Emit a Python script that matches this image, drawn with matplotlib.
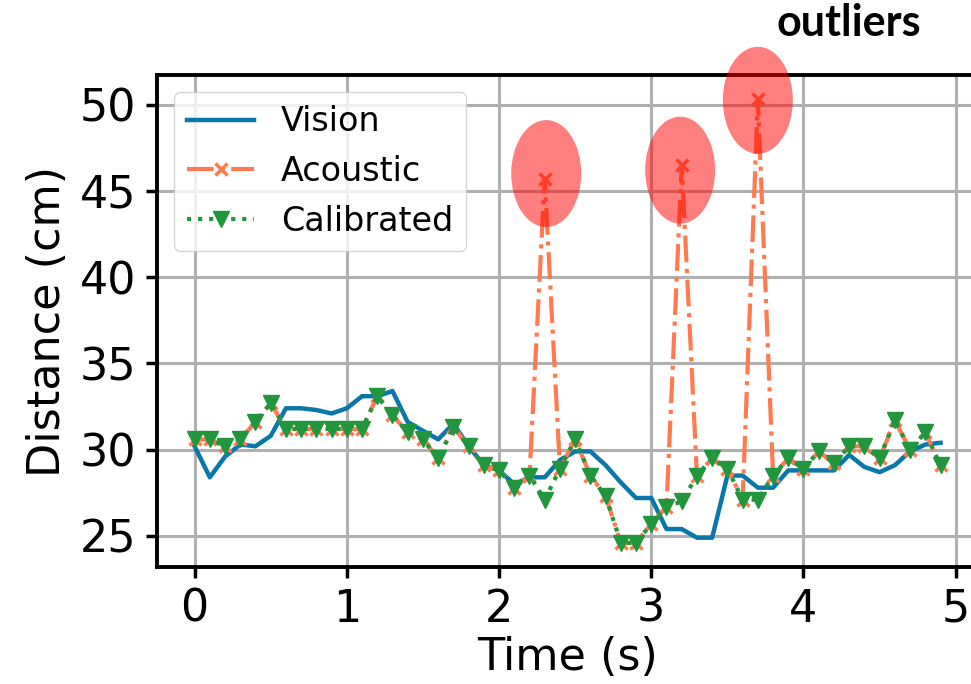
import numpy as np
import matplotlib
matplotlib.use("Agg")
import matplotlib.pyplot as plt
from matplotlib.patches import Ellipse

# time axis, 0.1 s steps
time_s = [round(0.1 * i, 1) for i in range(50)]

vision = [30.2, 28.4, 29.6, 30.3, 30.2, 30.8, 32.4, 32.4, 32.3, 32.1,
          32.4, 33.1, 33.1, 33.4, 31.6, 31.1, 30.6, 31.5, 30.2, 29.1,
          28.8, 28.0, 28.4, 28.4, 29.4, 29.9, 29.9, 29.1, 28.1, 27.2,
          27.2, 25.4, 25.4, 24.9, 24.9, 28.5, 28.5, 27.8, 27.8, 28.8,
          28.8, 28.8, 28.8, 29.7, 29.0, 28.7, 29.1, 29.9, 30.3, 30.4]

calibrated = [30.6, 30.6, 30.2, 30.6, 31.6, 32.7, 31.2, 31.2, 31.2, 31.2,
              31.2, 31.2, 33.1, 32.0, 31.0, 30.6, 29.5, 31.3, 30.2, 29.1,
              28.8, 27.8, 28.5, 27.1, 28.9, 30.6, 28.5, 27.3, 24.6, 24.6,
              25.7, 26.7, 27.0, 28.5, 29.5, 28.9, 27.1, 27.1, 28.5, 29.5,
              28.9, 29.9, 29.2, 30.2, 30.2, 29.5, 31.7, 30.0, 31.0, 29.1]

# raw acoustic readings, equal to calibrated except the three outliers
acoustic = list(calibrated)
acoustic[23] = 45.7
acoustic[32] = 46.5
acoustic[37] = 50.3

outlier_x = [2.31, 3.19, 3.70]
outlier_y = [46.0, 46.2, 50.25]

fig = plt.figure(figsize=(9.71, 6.84), dpi=100)
ax = fig.add_axes([0.162, 0.171, 0.845, 0.719])

ax.plot(time_s, vision, color='#0a77aa', lw=3.2, label='Vision', zorder=3)
ax.plot(time_s, acoustic, color='#ff7a50', lw=3, ls='-.', marker='x',
        ms=8, mew=2.5, label='Acoustic', zorder=3)
ax.plot(time_s, calibrated, color='#22963c', lw=3, ls=':', marker='v',
        ms=12, label='Calibrated', zorder=4)

for cx, cy in zip(outlier_x, outlier_y):
    ax.add_patch(Ellipse((cx, cy), 0.46, 6.2, color='red', alpha=0.5,
                         lw=0, zorder=5, clip_on=False))

ax.set_xlim(-0.245, 5.145)
ax.set_ylim(23.2, 51.7)
ax.set_xticks([0, 1, 2, 3, 4, 5])
ax.set_yticks([25, 30, 35, 40, 45, 50])
ax.grid(True, color='#b0b0b0', lw=2.2)
ax.set_axisbelow(True)
ax.tick_params(labelsize=32, width=2.5, length=8, pad=7)
for s in ax.spines.values():
    s.set_linewidth(2.8)

ax.set_xlabel('Time (s)', fontsize=32, labelpad=4)
ax.set_ylabel('Distance (cm)', fontsize=32, labelpad=8)
ax.legend(loc='upper left', fontsize=24, handlelength=2.0,
          borderaxespad=0.5, framealpha=0.8)

fig.text(0.874, 0.948, 'outliers', fontsize=31, fontweight='bold',
         family='Lato', ha='center', va='baseline')

fig.savefig('out.png', dpi=100)
